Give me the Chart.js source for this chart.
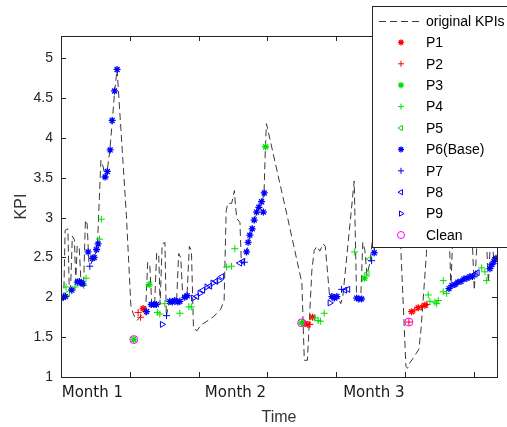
<!DOCTYPE html>
<html>
<head>
<meta charset="utf-8">
<script src="https://cdn.jsdelivr.net/npm/chart.js@4.4.0/dist/chart.umd.min.js"></script>
<style>
  html, body { margin: 0; padding: 0; background: #fff; }
</style>
</head>
<body>
<canvas id="kpiChart" width="507" height="427"></canvas>
<script>
// x is in days (one tick every 10 days), y is the KPI value

// original KPIs (dashed line)
const kpiX = [0, 0.4, 0.6, 1.0, 1.2, 1.4, 1.65, 1.95, 2.15, 2.35, 2.65, 2.9, 3.3, 3.55, 3.8, 4.05, 4.35, 4.6, 4.9, 5.3,
  5.8, 6.1, 6.4, 6.7, 7.1, 7.45, 7.8, 8.15, 9.5, 10.15, 10.5, 11.0, 11.4, 11.9, 12.3, 12.6, 12.9, 13.2, 13.6, 13.9,
  14.2, 14.4, 14.7, 15.1, 15.3, 15.65, 16.1, 16.8, 17.1, 17.4, 17.7, 18.3, 18.65, 18.95, 19.25, 19.75, 20.3, 21.2, 22.2, 23.2,
  23.7, 24.0, 24.25, 24.8, 25.2, 25.35, 25.55, 26.0, 26.2, 26.55, 27.0, 27.45, 28.05, 28.45, 28.8, 29.2, 29.5, 29.7, 29.85, 33.0,
  35.0, 35.35, 35.8, 36.45, 36.8, 37.2, 37.6, 38.1, 38.4, 39.0, 39.6, 40.2, 40.65, 40.95, 42.6, 42.95, 43.55, 43.85, 44.15, 44.45,
  44.9, 45.25, 45.5, 46.4, 48.9, 49.4, 50.12, 50.4, 50.7, 51.28, 52.0, 52.3, 53.1, 53.3, 56.3, 56.65, 56.95, 59.7, 60.05, 60.3,
  60.55, 61.75, 62.1, 62.4, 62.7, 62.85, 63.35];
const kpiY = [2.0, 2.01, 2.84, 2.86, 2.09, 2.14, 2.77, 2.72, 2.19, 2.65, 2.62, 2.2, 2.21, 2.97, 2.92, 2.44, 2.41, 2.49, 2.5, 2.67,
  3.72, 3.65, 3.51, 3.58, 3.85, 4.21, 4.59, 4.86, 3.03, 1.9, 1.79, 1.71, 1.74, 1.81, 1.84, 2.44, 2.41, 1.89, 1.91, 2.56,
  2.53, 1.91, 2.67, 2.69, 1.76, 1.92, 1.92, 1.96, 2.55, 2.5, 1.99, 2.01, 2.64, 2.59, 1.61, 1.58, 1.65, 1.7, 1.76, 1.85,
  1.96, 3.09, 3.18, 3.18, 3.34, 3.15, 2.99, 2.94, 2.44, 2.44, 2.57, 2.78, 2.97, 3.07, 3.13, 3.19, 3.31, 3.89, 4.18, 2.97,
  2.18, 1.21, 1.21, 2.34, 2.59, 2.64, 2.58, 2.67, 2.64, 2.04, 1.99, 2.01, 1.92, 2.01, 3.46, 2.0, 1.98, 2.69, 2.59, 2.28,
  2.44, 2.72, 2.56, 3.9, 3.6, 2.56, 1.13, 1.11, 1.18, 1.25, 1.35, 1.59, 2.55, 3.22, 3.1, 2.11, 2.84, 2.84, 2.09, 2.46,
  2.84, 2.84, 2.18, 2.72, 2.72, 2.49, 2.53];

const p1X = [11.93, 35.44, 35.87, 36.55, 50.94, 51.9, 52.88];
const p1Y = [1.86, 1.67, 1.66, 1.75, 1.82, 1.87, 1.9];

const p2X = [11.21, 11.56, 12.33, 36.16, 50.55, 51.4, 52.4, 53.17];
const p2Y = [1.81, 1.75, 1.82, 1.66, 1.69, 1.84, 1.88, 1.91];

const p3X = [10.58, 12.8, 29.73, 34.96, 44.1];
const p3Y = [1.47, 2.16, 3.89, 1.68, 2.24];

const p4X = [0.74, 2.05, 3.31, 3.65, 5.6, 5.86, 14.0, 14.36, 15.09, 17.27, 18.58, 18.94, 24.06, 24.78, 25.26,
  36.89, 37.37, 37.69, 38.24, 42.67, 53.36, 53.6, 54.33, 54.58, 54.81, 55.54, 55.54, 56.03, 61.12, 61.6, 61.85];
const p4Y = [2.13, 2.13, 2.15, 2.24, 2.73, 2.98, 1.81, 1.79, 1.92, 1.8, 1.88, 1.88, 2.38, 2.39, 2.61,
  1.74, 1.71, 1.7, 1.8, 2.57, 2.03, 1.95, 1.94, 1.92, 1.96, 2.07, 2.21, 2.05, 2.37, 2.32, 2.21];

const p5X = [0.99, 44.5, 44.85];
const p5Y = [2.05, 2.3, 2.48];

const p6X = [0.04, 0.33, 0.63, 1.57, 2.37, 2.66, 2.95, 3.17, 3.94, 4.58, 4.81, 5.16, 5.39, 6.41, 6.73, 7.14, 7.43, 7.78, 8.15,
  12.43, 13.12, 13.49, 13.85, 15.81, 16.18, 16.54, 16.98, 17.27, 17.99, 18.33,
  26.96, 27.19, 27.44, 27.78, 28.07, 28.42, 28.75, 29.14, 29.4, 29.53,
  39.36, 39.72, 40.09, 42.95, 43.28, 43.68, 45.51,
  56.37, 56.8, 57.24, 57.67, 58.11, 58.55, 58.98, 59.42, 59.78, 62.33, 62.62, 62.91, 63.2];
const p6Y = [1.99, 2.0, 2.01, 2.09, 2.19, 2.2, 2.18, 2.17, 2.57, 2.49, 2.5, 2.6, 2.67, 3.51, 3.58, 3.85, 4.22, 4.59, 4.86,
  1.82, 1.91, 1.91, 1.91, 1.95, 1.94, 1.96, 1.94, 1.95, 2.0, 2.02,
  2.57, 2.69, 2.78, 2.86, 2.97, 3.07, 3.13, 3.2, 3.07, 3.31,
  2.01, 1.99, 2.01, 1.99, 1.98, 1.98, 2.56,
  2.11, 2.15, 2.16, 2.19, 2.2, 2.23, 2.24, 2.26, 2.26, 2.36, 2.41, 2.45, 2.49];

const p7X = [4.19, 15.33, 26.64, 40.77, 45.13];
const p7Y = [2.39, 1.77, 2.44, 2.1, 2.46];

const p8X = [19.74, 20.61, 21.63, 22.5, 23.37, 25.99, 26.42, 41.25, 41.69, 60.2, 60.5];
const p8Y = [2.01, 2.09, 2.14, 2.2, 2.26, 2.43, 2.45, 2.09, 2.1, 2.29, 2.31];

const p9X = [14.7, 19.23, 20.17, 21.19, 22.06, 22.94, 39.07];
const p9Y = [1.66, 1.99, 2.05, 2.13, 2.18, 2.21, 1.93];

const cleanX = [10.58, 34.96, 50.55];
const cleanY = [1.47, 1.68, 1.69];

const xTickValues = [0, 10, 20, 30, 40, 50, 60];
const yTickValues = [1, 1.5, 2, 2.5, 3, 3.5, 4, 4.5, 5];
const monthLabels = ["Month 1", "Month 2", "Month 3"];
const monthStarts = [0.1, 20.9, 41.0];

const axisColor = "#262626";
const fontFam = "'Liberation Sans', Arial, sans-serif";

function pts(xs, ys) {
  return xs.map(function (x, i) {
    return { x: x, y: ys[i] };
  });
}

// marker styles, in legend order
const series = [
  { label: "P1", xs: p1X, ys: p1Y, color: "#ff0000", style: "star", r: 3.5, w: 1.3, rot: 0 },
  { label: "P2", xs: p2X, ys: p2Y, color: "#ff0000", style: "cross", r: 3.5, w: 1, rot: 0 },
  { label: "P3", xs: p3X, ys: p3Y, color: "#00e000", style: "star", r: 3.5, w: 1.3, rot: 0 },
  { label: "P4", xs: p4X, ys: p4Y, color: "#00e000", style: "cross", r: 3.5, w: 1, rot: 0 },
  { label: "P5", xs: p5X, ys: p5Y, color: "#00e000", style: "triangle", r: 3.5, w: 1, rot: -90 },
  { label: "P6(Base)", xs: p6X, ys: p6Y, color: "#0000ff", style: "star", r: 3.5, w: 1.3, rot: 0 },
  { label: "P7", xs: p7X, ys: p7Y, color: "#0000ff", style: "cross", r: 3.5, w: 1, rot: 0 },
  { label: "P8", xs: p8X, ys: p8Y, color: "#0000ff", style: "triangle", r: 3.5, w: 1, rot: -90 },
  { label: "P9", xs: p9X, ys: p9Y, color: "#0000ff", style: "triangle", r: 3.5, w: 1, rot: 90 },
  { label: "Clean", xs: cleanX, ys: cleanY, color: "#ff00ff", style: "circle", r: 4, w: 1, rot: 0 },
];

const datasets = [
  {
    type: "line",
    label: "original KPIs",
    data: pts(kpiX, kpiY),
    showLine: true,
    borderColor: "#3a3a3a",
    borderWidth: 1,
    borderDash: [7, 4],
    pointRadius: 0,
    tension: 0,
    fill: false,
    order: 20,
  },
];
series.forEach(function (s, i) {
  datasets.push({
    label: s.label,
    data: pts(s.xs, s.ys),
    showLine: false,
    pointStyle: s.style,
    pointRadius: s.r,
    pointRotation: s.rot,
    pointBorderColor: s.color,
    pointBackgroundColor: "rgba(0,0,0,0)",
    pointBorderWidth: s.w,
    order: 10 - i,
  });
});

function drawMarker(ctx, s, x, y) {
  ctx.strokeStyle = s.color;
  ctx.fillStyle = "rgba(0,0,0,0)";
  ctx.lineWidth = s.w;
  Chart.helpers.drawPoint(ctx, { pointStyle: s.style, rotation: s.rot, radius: s.r - 0.5, borderWidth: s.w }, x, y);
}

// box, inward ticks, month labels and the legend on top of the plot
const decorPlugin = {
  id: "decor",
  afterDraw(chart) {
    const ctx = chart.ctx;
    const a = chart.chartArea;
    const xs = chart.scales.x;
    const ys = chart.scales.y;
    ctx.save();
    ctx.strokeStyle = axisColor;
    ctx.lineWidth = 1;
    ctx.strokeRect(a.left + 0.5, a.top + 0.5, a.right - a.left, a.bottom - a.top);
    ctx.beginPath();
    yTickValues.forEach(function (v) {
      const py = Math.round(ys.getPixelForValue(v)) + 0.5;
      ctx.moveTo(a.left, py); ctx.lineTo(a.left + 5, py);
      ctx.moveTo(a.right, py); ctx.lineTo(a.right - 5, py);
    });
    xTickValues.forEach(function (v) {
      const px = Math.round(xs.getPixelForValue(v)) + 0.5;
      ctx.moveTo(px, a.bottom); ctx.lineTo(px, a.bottom - 5);
      ctx.moveTo(px, a.top); ctx.lineTo(px, a.top + 5);
    });
    ctx.stroke();

    ctx.fillStyle = "#1a1a1a";
    ctx.font = "15px 'DejaVu Sans', sans-serif";
    ctx.textAlign = "left";
    ctx.textBaseline = "alphabetic";
    monthLabels.forEach(function (m, i) {
      ctx.fillText(m, xs.getPixelForValue(monthStarts[i]), 397);
    });

    // legend
    const lx = 372, ly = 6, lw = 140, lh = 241;
    ctx.fillStyle = "#ffffff";
    ctx.fillRect(lx, ly, lw, lh);
    ctx.strokeStyle = axisColor;
    ctx.strokeRect(lx + 0.5, ly + 0.5, lw, lh);
    const rowH = 21.4;
    let y0 = 21;
    ctx.font = "14px " + fontFam;
    ctx.textBaseline = "middle";
    ctx.fillStyle = "#000000";
    ctx.beginPath();
    ctx.setLineDash([7, 4]);
    ctx.strokeStyle = "#3a3a3a";
    ctx.moveTo(379, y0 + 0.5);
    ctx.lineTo(422, y0 + 0.5);
    ctx.stroke();
    ctx.setLineDash([]);
    ctx.fillText("original KPIs", 426, y0 + 1);
    series.forEach(function (s, i) {
      const yy = y0 + rowH * (i + 1);
      drawMarker(ctx, s, 401, yy);
      ctx.fillStyle = "#000000";
      ctx.fillText(s.label, 426, yy + 1);
    });
    ctx.restore();
  },
};

new Chart(document.getElementById("kpiChart"), {
  type: "scatter",
  data: { datasets: datasets },
  options: {
    responsive: false,
    animation: false,
    events: [],
    layout: { padding: { left: 0, top: 36, right: 10, bottom: 0 } },
    plugins: { legend: { display: false }, tooltip: { enabled: false } },
    scales: {
      x: {
        type: "linear",
        min: 0,
        max: 63.35,
        afterBuildTicks: function (s) {
          s.ticks = xTickValues.map(function (v) { return { value: v }; });
        },
        afterFit: function (s) { s.height = 50; },
        ticks: { display: false },
        grid: { display: false, drawTicks: false },
        border: { display: false },
        title: {
          display: true,
          text: "Time",
          color: "#333333",
          font: { family: fontFam, size: 16 },
          padding: { top: 0, bottom: 0 },
        },
      },
      y: {
        type: "linear",
        min: 1,
        max: 5.28,
        afterBuildTicks: function (s) {
          s.ticks = yTickValues.map(function (v) { return { value: v }; });
        },
        afterFit: function (s) { s.width = 61; },
        ticks: {
          color: axisColor,
          padding: 8,
          font: { family: fontFam, size: 14 },
          callback: function (v) { return String(v); },
        },
        grid: { display: false, drawTicks: false },
        border: { display: false },
        title: {
          display: true,
          text: "KPI",
          color: "#333333",
          font: { family: fontFam, size: 16 },
          padding: { top: 12, bottom: 0 },
        },
      },
    },
  },
  plugins: [decorPlugin],
});
</script>
</body>
</html>
